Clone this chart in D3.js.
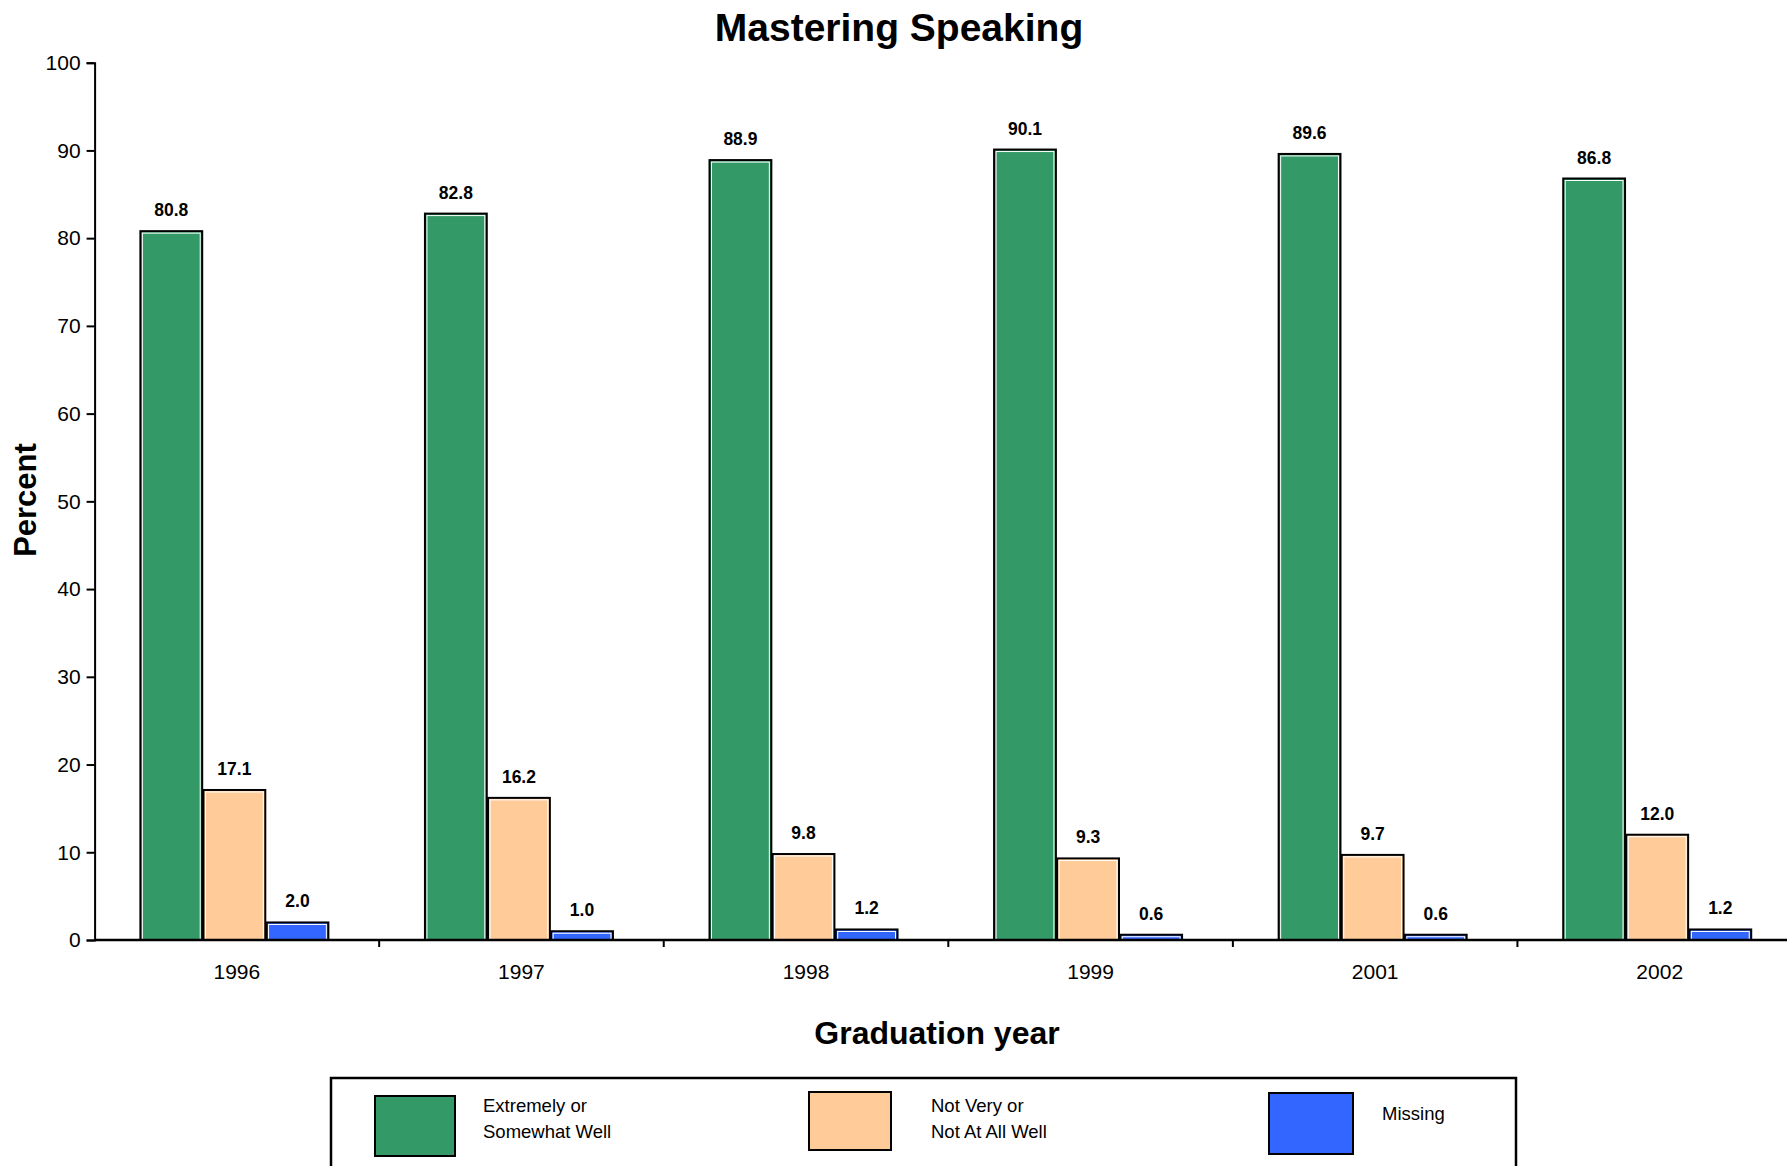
<!DOCTYPE html>
<html><head><meta charset="utf-8">
<script src="https://cdn.jsdelivr.net/npm/d3@7"></script>
<style>
html,body{margin:0;padding:0;background:#fff;}
svg{display:block;font-family:"Liberation Sans",Arial,sans-serif;}
</style></head>
<body>
<svg id="c" width="1787" height="1166"></svg>
<script>
const years = ["1996","1997","1998","1999","2001","2002"];
const seriesNames = ["Extremely or Somewhat Well","Not Very or Not At All Well","Missing"];
const extremely = [80.8, 82.8, 88.9, 90.1, 89.6, 86.8];
const notVery = [17.1, 16.2, 9.8, 9.3, 9.7, 12.0];
const missing = [2.0, 1.0, 1.2, 0.6, 0.6, 1.2];
const colors = ["#339966", "#FFCC99", "#3366FF"];
const legendLines = [["Extremely or","Somewhat Well"],["Not Very or","Not At All Well"],["Missing"]];
const yTicks = [0,10,20,30,40,50,60,70,80,90,100];

(function(){
const svg = d3.select("#c");
const pLeft = 94.6, pRight = 1802, pTop = 62.7, pBottom = 940;

const x0 = d3.scaleBand().domain(years).range([pLeft, pRight]).padding(0);
const groupW = 188;
const x1 = d3.scaleBand().domain(seriesNames).range([0, groupW]).paddingInner(0.02);
const y = d3.scaleLinear().domain([0,100]).range([pBottom, pTop]);

const seriesVals = [extremely, notVery, missing];
const data = [];
years.forEach((yr,i)=>{
  seriesNames.forEach((s,j)=>{ data.push({yr, s, j, v: seriesVals[j][i]}); });
});

// title
svg.append("text").attr("x", 899).attr("y", 41).attr("text-anchor","middle")
  .attr("font-size", 39).attr("font-weight","bold").text("Mastering Speaking");

// bars
const gx = yr => x0(yr) + (x0.bandwidth() - groupW)/2 - 2.5;
const bars = svg.append("g");
data.forEach(d=>{
  const bx = gx(d.yr) + x1(d.s), bw = x1.bandwidth();
  const by = y(d.v), bh = y(0) - y(d.v);
  bars.append("rect").attr("x", bx).attr("y", by).attr("width", bw).attr("height", bh)
    .attr("fill", colors[d.j]).attr("stroke","#000").attr("stroke-width",2);
  if (bh > 4) {
    bars.append("rect").attr("x", bx+2).attr("y", by+2).attr("width", bw-4).attr("height", Math.max(0,bh-2))
      .attr("fill","none").attr("stroke","#fff").attr("stroke-width",1);
  }
  bars.append("text").attr("x", bx + bw/2).attr("y", by - 15).attr("text-anchor","middle")
    .attr("font-size", 17.5).attr("font-weight","bold").text(d.v.toFixed(1));
});

// y axis
const yAxis = d3.axisLeft(y).tickValues(yTicks).tickSize(8).tickPadding(6);
const ga = svg.append("g").attr("transform",`translate(${pLeft},0)`).call(yAxis);
ga.select(".domain").attr("stroke","#000").attr("stroke-width",2);
ga.selectAll(".tick line").attr("stroke","#000").attr("stroke-width",2);
ga.selectAll(".tick text").attr("font-size",21).attr("fill","#000").attr("font-family","Liberation Sans, Arial, sans-serif");

// x axis
svg.append("line").attr("x1", pLeft).attr("x2", 1787).attr("y1", pBottom).attr("y2", pBottom)
  .attr("stroke","#000").attr("stroke-width",2.5);
years.slice(1).forEach(yr=>{
  svg.append("line").attr("x1", x0(yr)).attr("x2", x0(yr)).attr("y1", pBottom).attr("y2", pBottom+7)
    .attr("stroke","#000").attr("stroke-width",2);
});
years.forEach(yr=>{
  svg.append("text").attr("x", x0(yr)+x0.bandwidth()/2).attr("y", 979).attr("text-anchor","middle")
    .attr("font-size",21).text(yr);
});

// axis titles
svg.append("text").attr("transform","translate(36,500) rotate(-90)").attr("text-anchor","middle")
  .attr("font-size",31).attr("font-weight","bold").text("Percent");
svg.append("text").attr("x", 937).attr("y", 1044).attr("text-anchor","middle")
  .attr("font-size",32).attr("font-weight","bold").text("Graduation year");

// legend
svg.append("rect").attr("x",331).attr("y",1078).attr("width",1185).attr("height",120)
  .attr("fill","none").attr("stroke","#000").attr("stroke-width",2.5);
const sw = [{x:375,y:1096,w:80,h:60},{x:809,y:1092,w:82,h:58},{x:1269,y:1093,w:84,h:61}];
const tx = [483, 931, 1382];
seriesNames.forEach((s,j)=>{
  svg.append("rect").attr("x",sw[j].x).attr("y",sw[j].y).attr("width",sw[j].w).attr("height",sw[j].h)
    .attr("fill",colors[j]).attr("stroke","#000").attr("stroke-width",2);
  const lines = legendLines[j];
  lines.forEach((ln,k)=>{
    const yy = lines.length === 1 ? 1120 : 1112 + k*26;
    svg.append("text").attr("x",tx[j]).attr("y",yy).attr("font-size",18.5).text(ln);
  });
});
})();
</script>
</body></html>
